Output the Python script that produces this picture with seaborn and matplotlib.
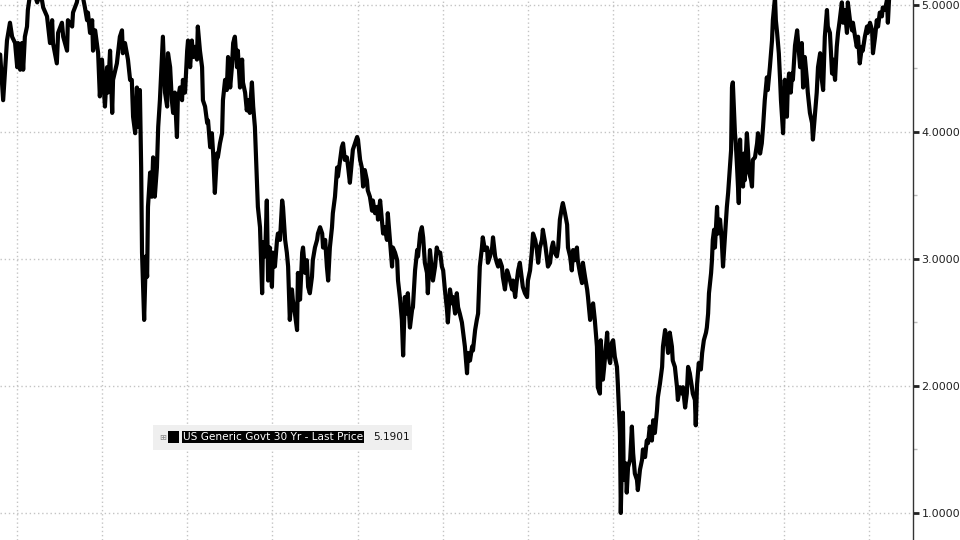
import numpy as np
import pandas as pd
import seaborn as sns
import matplotlib.pyplot as plt
from matplotlib.patches import Rectangle
from matplotlib.ticker import FixedLocator, FormatStrFormatter

# US Generic Govt 30 Yr yield (decimal year, yield %)
years = [
    2005.61, 2005.68, 2005.77, 2005.84, 2005.89, 2005.96, 2006.01, 2006.03, 2006.08, 2006.12,
    2006.15, 2006.19, 2006.24, 2006.26, 2006.31, 2006.38, 2006.48, 2006.55, 2006.59, 2006.62,
    2006.71, 2006.78, 2006.83, 2006.85, 2006.94, 2006.97, 2007.06, 2007.09, 2007.18, 2007.20,
    2007.30, 2007.32, 2007.41, 2007.44, 2007.53, 2007.60, 2007.65, 2007.67, 2007.72, 2007.77,
    2007.79, 2007.84, 2007.91, 2007.95, 2008.00, 2008.07, 2008.12, 2008.14, 2008.19, 2008.24,
    2008.26, 2008.35, 2008.42, 2008.47, 2008.49, 2008.54, 2008.61, 2008.66, 2008.70, 2008.73,
    2008.78, 2008.82, 2008.85, 2008.89, 2008.92, 2008.94, 2008.99, 2009.03, 2009.06, 2009.08,
    2009.13, 2009.17, 2009.20, 2009.24, 2009.29, 2009.32, 2009.36, 2009.41, 2009.43, 2009.48,
    2009.53, 2009.55, 2009.60, 2009.64, 2009.67, 2009.71, 2009.76, 2009.78, 2009.83, 2009.88,
    2009.90, 2009.95, 2010.00, 2010.02, 2010.07, 2010.11, 2010.14, 2010.18, 2010.23, 2010.25,
    2010.30, 2010.35, 2010.37, 2010.42, 2010.47, 2010.49, 2010.54, 2010.58, 2010.61, 2010.65,
    2010.70, 2010.72, 2010.77, 2010.82, 2010.84, 2010.89, 2010.93, 2010.96, 2011.01, 2011.05,
    2011.08, 2011.12, 2011.17, 2011.19, 2011.24, 2011.29, 2011.31, 2011.36, 2011.40, 2011.43,
    2011.47, 2011.52, 2011.55, 2011.59, 2011.64, 2011.66, 2011.71, 2011.76, 2011.78, 2011.83,
    2011.87, 2011.90, 2011.94, 2011.99, 2012.01, 2012.06, 2012.11, 2012.13, 2012.18, 2012.23,
    2012.25, 2012.30, 2012.34, 2012.37, 2012.41, 2012.46, 2012.48, 2012.53, 2012.58, 2012.60,
    2012.65, 2012.70, 2012.72, 2012.77, 2012.81, 2012.84, 2012.88, 2012.93, 2012.95, 2013.00,
    2013.05, 2013.07, 2013.12, 2013.17, 2013.19, 2013.24, 2013.28, 2013.31, 2013.35, 2013.40,
    2013.42, 2013.47, 2013.52, 2013.54, 2013.59, 2013.63, 2013.66, 2013.70, 2013.75, 2013.78,
    2013.82, 2013.87, 2013.89, 2013.94, 2013.99, 2014.01, 2014.06, 2014.10, 2014.13, 2014.17,
    2014.22, 2014.24, 2014.29, 2014.34, 2014.36, 2014.41, 2014.46, 2014.48, 2014.53, 2014.57,
    2014.60, 2014.64, 2014.69, 2014.71, 2014.76, 2014.81, 2014.83, 2014.88, 2014.93, 2014.95,
    2015.00, 2015.04, 2015.07, 2015.11, 2015.16, 2015.18, 2015.23, 2015.28, 2015.30, 2015.35,
    2015.40, 2015.42, 2015.47, 2015.51, 2015.54, 2015.58, 2015.63, 2015.65, 2015.70, 2015.75,
    2015.77, 2015.82, 2015.86, 2015.89, 2015.94, 2015.98, 2016.01, 2016.05, 2016.10, 2016.12,
    2016.17, 2016.22, 2016.24, 2016.29, 2016.33, 2016.36, 2016.40, 2016.45, 2016.48, 2016.52,
    2016.57, 2016.59, 2016.64, 2016.69, 2016.71, 2016.76, 2016.80, 2016.83, 2016.87, 2016.92,
    2016.94, 2016.99, 2017.04, 2017.06, 2017.11, 2017.16, 2017.18, 2017.23, 2017.27, 2017.30,
    2017.34, 2017.39, 2017.41, 2017.46, 2017.51, 2017.53, 2017.58, 2017.63, 2017.65, 2017.70,
    2017.74, 2017.77, 2017.81, 2017.86, 2017.88, 2017.93, 2017.98, 2018.00, 2018.05, 2018.09,
    2018.12, 2018.17, 2018.21, 2018.24, 2018.28, 2018.33, 2018.35, 2018.40, 2018.45, 2018.47,
    2018.52, 2018.56, 2018.59, 2018.63, 2018.68, 2018.71, 2018.75, 2018.80, 2018.82, 2018.87,
    2018.92, 2018.94, 2018.99, 2019.03, 2019.06, 2019.10, 2019.15, 2019.17, 2019.22, 2019.27,
    2019.29, 2019.34, 2019.39, 2019.41, 2019.46, 2019.50, 2019.53, 2019.57, 2019.62, 2019.64,
    2019.69, 2019.71, 2019.76, 2019.79, 2019.83, 2019.86, 2019.88, 2019.93, 2019.97, 2020.00,
    2020.04, 2020.09, 2020.11, 2020.14, 2020.16, 2020.18, 2020.23, 2020.25, 2020.30, 2020.32,
    2020.35, 2020.40, 2020.44, 2020.47, 2020.51, 2020.56, 2020.58, 2020.63, 2020.68, 2020.70,
    2020.75, 2020.79, 2020.82, 2020.86, 2020.91, 2020.94, 2020.98, 2021.03, 2021.05, 2021.10,
    2021.15, 2021.17, 2021.22, 2021.26, 2021.29, 2021.33, 2021.38, 2021.40, 2021.45, 2021.50,
    2021.52, 2021.57, 2021.62, 2021.64, 2021.69, 2021.73, 2021.76, 2021.80, 2021.85, 2021.87,
    2021.92, 2021.94, 2021.97, 2022.01, 2022.06, 2022.09, 2022.13, 2022.18, 2022.20, 2022.23,
    2022.25, 2022.30, 2022.32, 2022.34, 2022.37, 2022.39, 2022.44, 2022.46, 2022.51, 2022.55,
    2022.58, 2022.63, 2022.67, 2022.70, 2022.74, 2022.77, 2022.79, 2022.81, 2022.86, 2022.88,
    2022.91, 2022.95, 2022.98, 2023.00, 2023.05, 2023.07, 2023.09, 2023.14, 2023.17, 2023.19,
    2023.24, 2023.26, 2023.28, 2023.33, 2023.38, 2023.40, 2023.45, 2023.49, 2023.52, 2023.56,
    2023.61, 2023.63, 2023.68, 2023.73, 2023.75, 2023.80, 2023.82, 2023.85, 2023.89, 2023.92,
    2023.94, 2023.99, 2024.01, 2024.03, 2024.08, 2024.10, 2024.13, 2024.17, 2024.20, 2024.22,
    2024.27, 2024.32, 2024.34, 2024.39, 2024.43, 2024.46, 2024.50, 2024.55, 2024.57, 2024.62,
    2024.67, 2024.69, 2024.74, 2024.78, 2024.81, 2024.86, 2024.90, 2024.93, 2024.97, 2025.02,
    2025.04, 2025.09, 2025.14, 2025.16, 2025.21, 2025.25, 2025.28, 2025.32, 2025.37, 2025.40,
    2025.44, 2025.49, 2025.51, 2025.56, 2025.61, 2025.63, 2025.68, 2025.72, 2025.75, 2025.79,
    2025.84, 2025.86, 2025.91, 2025.96, 2025.98, 2026.03, 2026.08, 2026.10, 2026.15, 2026.19,
    2026.22, 2026.26, 2026.31, 2026.33, 2026.38, 2026.43, 2026.45, 2026.50,
]

yields = [
    4.61, 4.25, 4.72, 4.86, 4.75, 4.70, 4.51, 4.70, 4.49, 4.70,
    4.49, 4.75, 4.83, 4.96, 5.08, 5.12, 5.02, 5.10, 5.04, 4.98,
    4.91, 4.70, 4.88, 4.70, 4.54, 4.78, 4.86, 4.75, 4.64, 4.88,
    4.83, 4.94, 5.02, 5.08, 5.10, 4.98, 4.88, 4.94, 4.78, 4.88,
    4.64, 4.80, 4.62, 4.28, 4.57, 4.20, 4.51, 4.31, 4.64, 4.15,
    4.41, 4.54, 4.75, 4.80, 4.62, 4.70, 4.57, 4.41, 4.41, 4.12,
    3.99, 4.35, 4.04, 4.33, 3.72, 3.05, 2.52, 3.02, 2.86, 3.41,
    3.68, 3.49, 3.80, 3.49, 3.72, 4.04, 4.25, 4.62, 4.75, 4.31,
    4.20, 4.62, 4.51, 4.25, 4.15, 4.31, 3.96, 4.25, 4.35, 4.25,
    4.41, 4.31, 4.64, 4.72, 4.51, 4.72, 4.59, 4.67, 4.57, 4.83,
    4.64, 4.51, 4.25, 4.20, 4.07, 4.09, 3.88, 3.99, 3.83, 3.52,
    3.83, 3.80, 3.91, 3.99, 4.25, 4.41, 4.33, 4.59, 4.35, 4.51,
    4.70, 4.75, 4.51, 4.64, 4.35, 4.57, 4.39, 4.31, 4.17, 4.25,
    4.15, 4.39, 4.20, 4.04, 3.60, 3.41, 3.25, 2.73, 3.13, 3.02,
    3.46, 2.83, 3.09, 2.78, 3.05, 2.94, 3.15, 3.20, 3.15, 3.46,
    3.41, 3.15, 3.05, 2.94, 2.52, 2.76, 2.68, 2.57, 2.44, 2.89,
    2.68, 3.05, 3.09, 2.89, 2.99, 2.78, 2.73, 2.86, 2.99, 3.09,
    3.15, 3.20, 3.25, 3.20, 3.09, 3.15, 2.94, 2.83, 3.09, 3.25,
    3.36, 3.49, 3.72, 3.65, 3.78, 3.88, 3.91, 3.78, 3.80, 3.72,
    3.60, 3.78, 3.86, 3.91, 3.96, 3.94, 3.78, 3.72, 3.57, 3.70,
    3.62, 3.54, 3.49, 3.38, 3.46, 3.36, 3.41, 3.31, 3.46, 3.31,
    3.20, 3.25, 3.15, 3.36, 3.15, 2.94, 3.09, 3.05, 2.99, 2.83,
    2.68, 2.52, 2.24, 2.70, 2.57, 2.73, 2.46, 2.60, 2.62, 2.91,
    3.07, 3.02, 3.20, 3.25, 3.17, 2.97, 2.89, 2.73, 3.07, 2.89,
    2.83, 2.94, 3.09, 3.05, 3.05, 2.94, 2.91, 2.76, 2.60, 2.50,
    2.76, 2.65, 2.70, 2.57, 2.73, 2.62, 2.57, 2.50, 2.42, 2.31,
    2.10, 2.26, 2.20, 2.31, 2.28, 2.44, 2.52, 2.57, 2.94, 3.09,
    3.17, 3.07, 3.09, 2.97, 3.02, 3.09, 3.17, 3.02, 2.97, 2.94,
    2.99, 2.94, 2.86, 2.76, 2.91, 2.89, 2.83, 2.76, 2.83, 2.70,
    2.83, 2.91, 2.97, 2.83, 2.78, 2.73, 2.70, 2.83, 2.91, 3.05,
    3.20, 3.15, 3.07, 2.97, 3.09, 3.15, 3.23, 3.13, 2.99, 2.94,
    2.97, 3.09, 3.13, 3.05, 3.02, 3.09, 3.31, 3.41, 3.44, 3.36,
    3.27, 3.09, 3.02, 2.91, 3.07, 2.99, 3.09, 2.99, 2.89, 2.81,
    2.97, 2.86, 2.76, 2.70, 2.52, 2.62, 2.65, 2.52, 2.31, 1.99,
    1.94, 2.36, 2.05, 2.15, 2.31, 2.42, 2.26, 2.18, 2.34, 2.36,
    2.23, 2.15, 2.02, 1.79, 1.63, 1.00, 1.79, 1.26, 1.39, 1.16,
    1.36, 1.42, 1.68, 1.47, 1.31, 1.26, 1.18, 1.34, 1.42, 1.50,
    1.44, 1.57, 1.55, 1.68, 1.57, 1.73, 1.63, 1.81, 1.91, 2.02,
    2.15, 2.31, 2.44, 2.36, 2.26, 2.42, 2.31, 2.20, 2.15, 1.99,
    1.89, 1.99, 1.94, 1.99, 1.83, 1.94, 2.15, 2.10, 1.99, 1.94,
    1.89, 1.69, 2.01, 2.18, 2.13, 2.26, 2.36, 2.42, 2.46, 2.57,
    2.73, 2.89, 2.99, 3.15, 3.23, 3.09, 3.41, 3.20, 3.31, 3.15,
    2.94, 3.20, 3.41, 3.52, 3.72, 3.86, 4.35, 4.39, 3.99, 3.91,
    3.72, 3.44, 3.94, 3.72, 3.57, 3.83, 3.62, 3.99, 3.83, 3.68,
    3.62, 3.57, 3.78, 3.80, 3.91, 3.99, 3.83, 3.91, 4.04, 4.25,
    4.43, 4.33, 4.51, 4.72, 4.88, 5.06, 4.88, 4.78, 4.62, 4.41,
    4.25, 3.99, 4.20, 4.41, 4.12, 4.35, 4.46, 4.31, 4.46, 4.41,
    4.68, 4.80, 4.72, 4.51, 4.70, 4.35, 4.59, 4.41, 4.31, 4.15,
    4.07, 3.94, 4.15, 4.31, 4.51, 4.62, 4.41, 4.33, 4.75, 4.96,
    4.83, 4.78, 4.46, 4.57, 4.41, 4.67, 4.78, 4.88, 5.02, 4.86,
    4.96, 4.78, 5.02, 4.88, 4.80, 4.86, 4.75, 4.67, 4.75, 4.54,
    4.67, 4.64, 4.75, 4.83, 4.78, 4.86, 4.80, 4.62, 4.75, 4.88,
    4.83, 4.94, 4.91, 4.98, 4.96, 5.04, 4.86, 5.19,
]

y_ticks = [1, 2, 3, 4, 5]
x_grid = [2006, 2008, 2010, 2012, 2014, 2016, 2018, 2020, 2022, 2024, 2026]
series_label = "US Generic Govt 30 Yr - Last Price"
last_price = "5.1901"

df = pd.DataFrame({"year": years, "yield": yields})

sns.set_style("white")
plt.rcParams["font.family"] = ["DejaVu Sans"]

fig = plt.figure(figsize=(9.6, 5.4), dpi=100)
ax = fig.add_axes([0, 0, 913 / 960, 1])

sns.lineplot(data=df, x="year", y="yield", ax=ax, color="black", linewidth=3.0)

ax.set_xlim(2005.606, 2027.04)
ax.set_ylim(0.787, 5.039)

# dotted grid
for gx in x_grid:
    ax.axvline(gx, color="#c4c4c4", linestyle=(0, (1, 2)), linewidth=1, zorder=0)
for gy in y_ticks:
    ax.axhline(gy, color="#c4c4c4", linestyle=(0, (1, 2)), linewidth=1, zorder=0)

ax.set_xlabel("")
ax.set_ylabel("")
ax.set_xticks([])

for side in ["top", "left", "bottom"]:
    ax.spines[side].set_visible(False)
ax.spines["right"].set_visible(True)
ax.spines["right"].set_color("#333333")
ax.spines["right"].set_linewidth(1)

ax.yaxis.tick_right()
ax.yaxis.set_major_locator(FixedLocator(y_ticks))
ax.yaxis.set_minor_locator(FixedLocator([1.5, 2.5, 3.5, 4.5]))
ax.yaxis.set_major_formatter(FormatStrFormatter("%.4f"))
ax.tick_params(axis="y", which="major", direction="out", length=4, width=2,
               color="#222222", labelsize=8, labelcolor="#222222", pad=2)
ax.tick_params(axis="y", which="minor", direction="out", length=3, width=1,
               color="#bbbbbb")

# legend box in Bloomberg style
fig.patches.append(Rectangle((153 / 960, 1 - 450 / 540), 259 / 960, 25 / 540,
                             transform=fig.transFigure, facecolor="#efefef",
                             edgecolor="none", zorder=5))
fig.text(163 / 960, 1 - 437 / 540, "\u229e", fontsize=6, color="#888888",
         ha="center", va="center", zorder=6)
fig.patches.append(Rectangle((168 / 960, 1 - 443 / 540), 11 / 960, 12 / 540,
                             transform=fig.transFigure, facecolor="black",
                             edgecolor="none", zorder=6))
fig.text(183 / 960, 1 - 437 / 540, series_label, fontsize=7.6, color="white",
         ha="left", va="center", zorder=7,
         bbox=dict(boxstyle="square,pad=0.12", facecolor="black", edgecolor="none"))
fig.text(373 / 960, 1 - 437 / 540, last_price, fontsize=7.6, color="#111111",
         ha="left", va="center", zorder=7)

fig.savefig("out.png", dpi=100, facecolor="white")
